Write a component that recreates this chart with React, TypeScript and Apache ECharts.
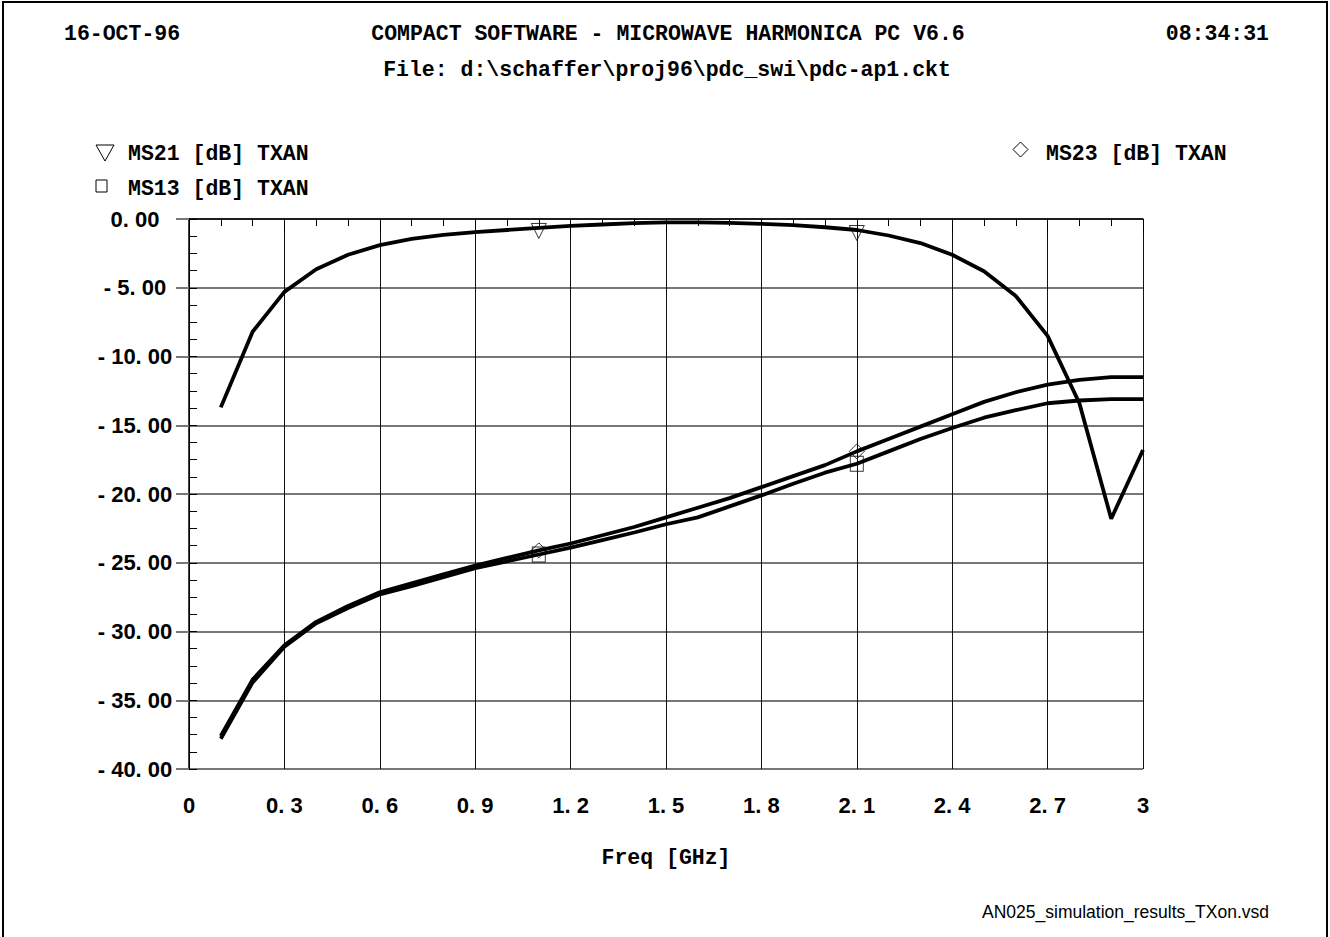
import React, { useEffect, useRef } from "react";
import * as echarts from "echarts";

const freqs = [0.1, 0.2, 0.3, 0.4, 0.5, 0.6, 0.7, 0.8, 0.9, 1.0, 1.1, 1.2, 1.3, 1.4, 1.5, 1.6, 1.7, 1.8, 1.9, 2.0, 2.1, 2.2, 2.3, 2.4, 2.5, 2.6, 2.7, 2.8, 2.9, 3.0];
const ms21 = [-13.7, -8.2, -5.3, -3.65, -2.6, -1.9, -1.45, -1.15, -0.95, -0.8, -0.65, -0.5, -0.4, -0.3, -0.25, -0.25, -0.28, -0.35, -0.45, -0.6, -0.8, -1.2, -1.75, -2.6, -3.8, -5.6, -8.5, -13.4, -21.8, -16.8];
const ms23 = [-37.6, -33.5, -31.0, -29.3, -28.15, -27.15, -26.5, -25.85, -25.2, -24.65, -24.1, -23.6, -23.0, -22.4, -21.7, -21.0, -20.3, -19.5, -18.7, -17.9, -16.9, -16.0, -15.1, -14.2, -13.3, -12.6, -12.05, -11.7, -11.5, -11.5];
const ms13 = [-37.8, -33.7, -31.1, -29.4, -28.3, -27.3, -26.7, -26.05, -25.4, -24.9, -24.4, -23.9, -23.35, -22.8, -22.2, -21.7, -20.9, -20.1, -19.25, -18.45, -17.8, -16.9, -16.0, -15.2, -14.45, -13.9, -13.4, -13.2, -13.1, -13.1];
const markerFreqs = [1.1, 2.1];
const xTickLabels = ["0", "0. 3", "0. 6", "0. 9", "1. 2", "1. 5", "1. 8", "2. 1", "2. 4", "2. 7", "3"];
const yTickLabels = ["0. 00", "- 5. 00", "- 10. 00", "- 15. 00", "- 20. 00", "- 25. 00", "- 30. 00", "- 35. 00", "- 40. 00"];
const legendNames = ["MS21 [dB] TXAN", "MS13 [dB] TXAN", "MS23 [dB] TXAN"];
const headerLeft = "16-OCT-96";
const headerCenter = "COMPACT SOFTWARE - MICROWAVE HARMONICA PC V6.6";
const headerRight = "08:34:31";
const fileLine = "File: d:\\schaffer\\proj96\\pdc_swi\\pdc-ap1.ckt";
const xAxisTitle = "Freq [GHz]";
const footer = "AN025_simulation_results_TXon.vsd";

const MONO = '"Liberation Mono", "Courier New", monospace';
const SANS = '"Liberation Sans", Arial, sans-serif';

function pairs(values: number[]) {
  return freqs.map((f, i) => [f, values[i]]);
}
function markerPairs(values: number[]) {
  return markerFreqs.map((f) => [f, values[freqs.findIndex((x) => Math.abs(x - f) < 1e-6)]]);
}

export default function App() {
  const ref = useRef<HTMLDivElement>(null);
  useEffect(() => {
    document.body.style.margin = "0";
    const chart = echarts.init(ref.current!, null, { renderer: "svg" });
    const lineStyle = { color: "#000", width: 3.8 };
    const markerItem = { color: "transparent", borderColor: "#000", borderWidth: 1 };
    const monoText = (text: string, x: number, y: number, align: string) => ({
      type: "text",
      x,
      y,
      style: { text, fontFamily: MONO, fontWeight: "bold", fontSize: 21.5, fill: "#000", align, verticalAlign: "middle" },
    });
    chart.setOption({
      animation: false,
      backgroundColor: "#fff",
      grid: { left: 189, right: 187, top: 219, bottom: 168 },
      xAxis: {
        type: "value",
        min: 0,
        max: 3,
        interval: 0.3,
        axisLine: { show: true, lineStyle: { color: "#000", width: 1.5 } },
        axisTick: { show: true, length: 14, lineStyle: { color: "#000", width: 1 } },
        minorTick: { show: true, splitNumber: 3, length: 7, lineStyle: { color: "#000", width: 1 } },
        splitLine: { show: true, lineStyle: { color: "#111", width: 1 } },
        axisLabel: {
          margin: 25,
          fontFamily: SANS,
          fontWeight: "bold",
          fontSize: 22,
          color: "#000",
          formatter: (v: number) => xTickLabels[Math.round(v / 0.3)] ?? "",
        },
      },
      yAxis: [
        {
          type: "value",
          min: -40,
          max: 0,
          interval: 5,
          axisLine: { show: true, lineStyle: { color: "#000", width: 1.5 } },
          axisTick: { show: true, length: 13, lineStyle: { color: "#777", width: 2 } },
          splitLine: { show: true, lineStyle: { color: "#777", width: 2 } },
          axisLabel: {
            margin: 54,
            align: "center",
            padding: [9, 0, 0, 0],
            fontFamily: SANS,
            fontWeight: "bold",
            fontSize: 22,
            color: "#000",
            formatter: (v: number) => yTickLabels[Math.round(-v / 5)] ?? "",
          },
        },
        {
          type: "value",
          min: -40,
          max: 0,
          interval: 1.25,
          position: "left",
          axisLine: { show: false },
          axisTick: { show: true, inside: true, length: 8, lineStyle: { color: "#000", width: 1 } },
          splitLine: { show: false },
          axisLabel: { show: false },
        },
      ],
      series: [
        { type: "line", data: pairs(ms21), showSymbol: false, lineStyle, z: 3 },
        { type: "line", data: pairs(ms13), showSymbol: false, lineStyle, z: 3 },
        { type: "line", data: pairs(ms23), showSymbol: false, lineStyle, z: 3 },
        { type: "scatter", data: markerPairs(ms21), symbol: "triangle", symbolRotate: 180, symbolSize: [15, 15], symbolOffset: [0, 3], itemStyle: markerItem, z: 4 },
        { type: "scatter", data: markerPairs(ms13), symbol: "rect", symbolSize: [13, 15], itemStyle: markerItem, z: 4 },
        { type: "scatter", data: markerPairs(ms23), symbol: "diamond", symbolSize: [15, 15], itemStyle: markerItem, z: 4 },
      ],
      graphic: [
        { type: "rect", shape: { x: 3, y: 2, width: 1324, height: 945 }, style: { fill: "none", stroke: "#000", lineWidth: 2 }, silent: true },
        monoText(headerLeft, 64, 34, "left"),
        monoText(headerCenter, 668, 34, "center"),
        monoText(headerRight, 1269, 34, "right"),
        monoText(fileLine, 667, 70, "center"),
        monoText(xAxisTitle, 666, 858, "center"),
        { type: "polygon", shape: { points: [[96, 145], [114, 145], [105, 161]] }, style: { fill: "none", stroke: "#000", lineWidth: 1 } },
        monoText(legendNames[0], 128, 154, "left"),
        { type: "rect", shape: { x: 96, y: 180, width: 11, height: 12 }, style: { fill: "none", stroke: "#000", lineWidth: 1 } },
        monoText(legendNames[1], 128, 189, "left"),
        { type: "polygon", shape: { points: [[1020.5, 142], [1028, 149.5], [1020.5, 157], [1013, 149.5]] }, style: { fill: "none", stroke: "#000", lineWidth: 1 } },
        monoText(legendNames[2], 1046, 154, "left"),
        {
          type: "text",
          x: 1269,
          y: 912,
          style: { text: footer, fontFamily: SANS, fontSize: 17.5, fill: "#000", align: "right", verticalAlign: "middle" },
        },
      ],
    });
    return () => chart.dispose();
  }, []);
  return <div ref={ref} style={{ width: 1330, height: 937 }} />;
}
